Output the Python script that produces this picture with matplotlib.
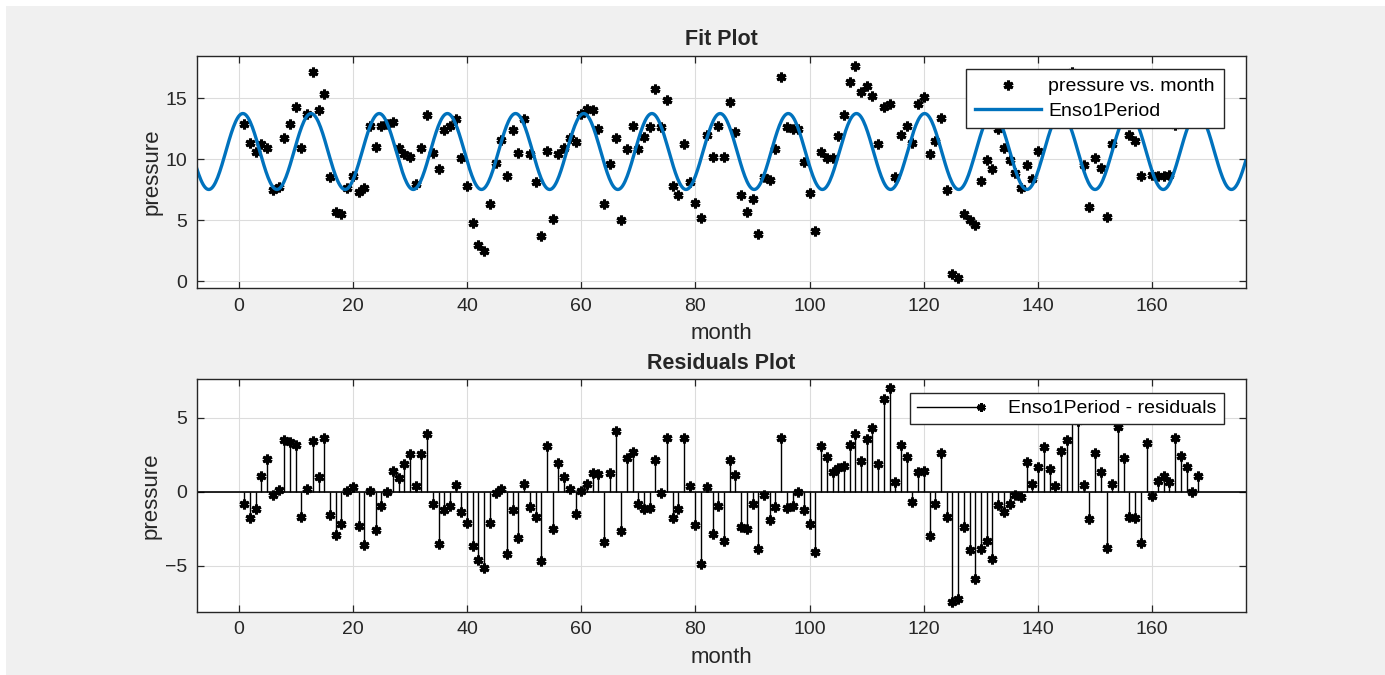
import numpy as np
import matplotlib.pyplot as plt
from matplotlib.lines import Line2D
from matplotlib.patches import Rectangle
from matplotlib.legend_handler import HandlerBase

pressure = [
    12.9, 11.3, 10.6, 11.2, 10.9, 7.5, 7.7, 11.7, 12.9, 14.3,
    10.9, 13.7, 17.1, 14.0, 15.3, 8.5, 5.7, 5.5, 7.6, 8.6,
    7.3, 7.6, 12.7, 11.0, 12.7, 12.9, 13.0, 10.9, 10.4, 10.2,
    8.0, 10.9, 13.6, 10.5, 9.2, 12.4, 12.7, 13.3, 10.1, 7.8,
    4.8, 3.0, 2.5, 6.3, 9.7, 11.6, 8.6, 12.4, 10.5, 13.3,
    10.4, 8.1, 3.7, 10.7, 5.1, 10.4, 10.9, 11.7, 11.4, 13.7,
    14.1, 14.0, 12.5, 6.3, 9.6, 11.7, 5.0, 10.8, 12.7, 10.8,
    11.8, 12.6, 15.7, 12.6, 14.8, 7.8, 7.1, 11.2, 8.1, 6.4,
    5.2, 12.0, 10.2, 12.7, 10.2, 14.7, 12.2, 7.1, 5.7, 6.7,
    3.9, 8.5, 8.3, 10.8, 16.7, 12.6, 12.5, 12.5, 9.8, 7.2,
    4.1, 10.6, 10.1, 10.1, 11.9, 13.6, 16.3, 17.6, 15.5, 16.0,
    15.2, 11.2, 14.3, 14.5, 8.5, 12.0, 12.7, 11.3, 14.5, 15.1,
    10.4, 11.5, 13.4, 7.5, 0.6, 0.3, 5.5, 5.0, 4.6, 8.2,
    9.9, 9.2, 12.5, 10.9, 9.9, 8.9, 7.6, 9.5, 8.4, 10.7,
    13.6, 13.7, 13.7, 16.5, 16.8, 17.1, 15.4, 9.5, 6.1, 10.1,
    9.3, 5.3, 11.2, 16.6, 15.6, 12.0, 11.5, 8.6, 13.8, 8.7,
    8.6, 8.6, 8.7, 12.8, 13.2, 14.0, 13.4, 14.8,
]
month = np.arange(1, len(pressure) + 1)
y = np.array(pressure)

# Enso1Period coefficients: c + a*cos(2*pi*x/P) + b*sin(2*pi*x/P)
fit_c = 10.6259
fit_a = 2.8759
fit_b = 1.1765
fit_period = 11.939


def enso1period(x):
    w = 2 * np.pi / fit_period
    return fit_c + fit_a * np.cos(w * x) + fit_b * np.sin(w * x)


residuals = y - enso1period(month)

plt.rcParams['font.family'] = ['Liberation Sans', 'DejaVu Sans']
txt = '#262626'
fig = plt.figure(figsize=(13.85, 6.75), dpi=100, facecolor='white')
fig.patches.append(Rectangle((6 / 1385, 0), 1, 1 - 6 / 675, transform=fig.transFigure,
                             facecolor='#f0f0f0', edgecolor='none', zorder=-10))

ax1 = fig.add_axes([0.142, 0.5729, 0.7574, 0.3446])
ax2 = fig.add_axes([0.142, 0.0938, 0.7574, 0.3443])

xlim = (-7.35, 176.35)
for ax in (ax1, ax2):
    ax.set_xlim(*xlim)
    ax.set_xticks(np.arange(0, 161, 20))
    ax.grid(True, color='#dcdcdc', lw=0.8)
    ax.set_axisbelow(True)
    ax.tick_params(direction='in', top=True, right=True, length=5, width=0.9,
                   colors=txt, labelsize=14, pad=7)
    for s in ax.spines.values():
        s.set_color(txt)
        s.set_linewidth(1.0)
    ax.set_xlabel('month', fontsize=16, color=txt, labelpad=6)
    ax.set_ylabel('pressure', fontsize=16, color=txt, labelpad=2)

star = (6, 2, 0)

ax1.plot(month, y, ls='none', marker=star, ms=7, mew=2.2, color='black',
         label='pressure vs. month')
xs = np.linspace(xlim[0], xlim[1], 1000)
ax1.plot(xs, enso1period(xs), color=(0, 0.447, 0.741), lw=2.4, label='Enso1Period')
ax1.set_ylim(-0.565, 18.465)
ax1.set_yticks([0, 5, 10, 15])
ax1.set_title('Fit Plot', fontsize=15.5, fontweight='bold', color=txt, pad=7.5)
ax1.legend(loc='upper right', bbox_to_anchor=(0.979, 0.943), fontsize=14,
           frameon=True, fancybox=False, edgecolor=txt, framealpha=1,
           borderpad=0.45, handlelength=3.4, handletextpad=0.4,
           labelspacing=0.35, borderaxespad=0)

ax2.axhline(0, color='black', lw=1.2, zorder=2)
ax2.vlines(month, 0, residuals, color='black', lw=1.0, zorder=3)
ax2.plot(month, residuals, ls='none', marker=star, ms=7, mew=2.2, color='black', zorder=4)
ax2.set_ylim(-8.09, 7.58)
ax2.set_yticks([-5, 0, 5])
ax2.set_title('Residuals Plot', fontsize=15.5, fontweight='bold', color=txt, pad=7.5)


class StemHandler(HandlerBase):
    def create_artists(self, legend, orig, xdescent, ydescent, width, height, fontsize, trans):
        yy = height / 2 - ydescent
        ln = Line2D([-xdescent, width - xdescent], [yy, yy], color='black', lw=1.0)
        mk = Line2D([width - xdescent], [yy], ls='none', marker=star, ms=6, mew=2, color='black')
        ln.set_transform(trans)
        mk.set_transform(trans)
        return [ln, mk]


stem_handle = Line2D([], [])
ax2.legend([stem_handle], ['Enso1Period - residuals'], handler_map={stem_handle: StemHandler()},
           loc='upper right', bbox_to_anchor=(0.979, 0.941), fontsize=14,
           frameon=True, fancybox=False, edgecolor=txt, framealpha=1,
           borderpad=0.35, handlelength=3.3, handletextpad=1.4, borderaxespad=0)

fig.savefig('out.png', dpi=100, facecolor=fig.get_facecolor())
